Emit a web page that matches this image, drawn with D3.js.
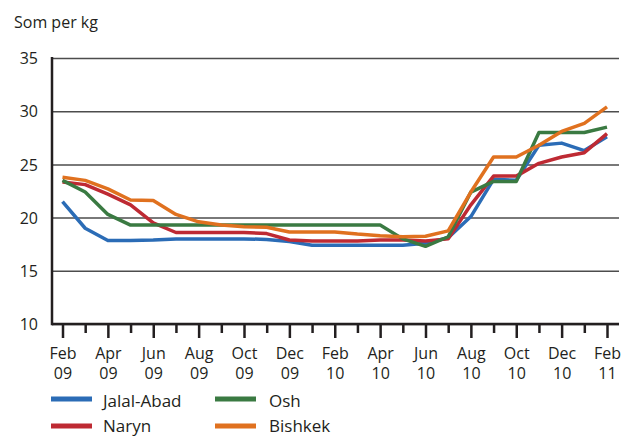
<!DOCTYPE html>
<html>
<head>
<meta charset="utf-8">
<script src="https://cdn.jsdelivr.net/npm/d3@7"></script>
<style>
  body { margin: 0; background: #fff; }
  text { font-family: "Open Sans", "Noto Sans", sans-serif; fill: #231f20; }
</style>
</head>
<body>
<div id="chart"></div>
<script>
// data (Som per kg, monthly Feb 09 - Feb 11)
const months = ["Feb 09","Mar 09","Apr 09","May 09","Jun 09","Jul 09","Aug 09","Sep 09","Oct 09","Nov 09","Dec 09",
  "Jan 10","Feb 10","Mar 10","Apr 10","May 10","Jun 10","Jul 10","Aug 10","Sep 10","Oct 10","Nov 10","Dec 10",
  "Jan 11","Feb 11"]

const jalalAbad = [21.5, 19.0, 17.85, 17.85, 17.9, 18.0, 18.0, 18.0, 18.0, 17.95, 17.75, 17.4, 17.4, 17.4, 17.4, 17.4, 17.6, 18.1, 20.1, 23.6, 23.5, 26.8, 27.0, 26.3, 27.6]
const naryn = [23.35, 23.1, 22.2, 21.2, 19.5, 18.6, 18.6, 18.6, 18.6, 18.5, 17.9, 17.8, 17.8, 17.8, 17.9, 17.9, 17.8, 18.0, 21.2, 23.9, 23.9, 25.1, 25.7, 26.1, 27.9]
const osh = [23.5, 22.4, 20.3, 19.3, 19.3, 19.3, 19.3, 19.3, 19.3, 19.3, 19.3, 19.3, 19.3, 19.3, 19.3, 18.0, 17.3, 18.2, 22.4, 23.4, 23.4, 28.0, 28.0, 28.0, 28.5]
const bishkek = [23.8, 23.5, 22.7, 21.65, 21.6, 20.3, 19.6, 19.3, 19.15, 19.1, 18.65, 18.65, 18.65, 18.45, 18.3, 18.2, 18.25, 18.75, 22.4, 25.7, 25.7, 26.8, 28.1, 28.85, 30.4]

const seriesNames = ["Jalal-Abad", "Naryn", "Osh", "Bishkek"]
const seriesValues = [jalalAbad, naryn, osh, bishkek]
const seriesColors = ["#2b6cb6", "#be2a33", "#3a7a42", "#e0711f"]

const yTicks = [10, 15, 20, 25, 30, 35]
const yLabel = "Som per kg"

// dimensions
let dimensions = {
    width: 622,
    height: 437,
    margin: { top: 58, right: 3, bottom: 113, left: 52 },
}
dimensions.innerWidth = dimensions.width - dimensions.margin.left - dimensions.margin.right
dimensions.innerHeight = dimensions.height - dimensions.margin.top - dimensions.margin.bottom

const outer = d3.select("#chart").append("svg")
    .attr("width", dimensions.width)
    .attr("height", dimensions.height)

const inner = outer.append("g")
    .attr("transform", `translate(${dimensions.margin.left},${dimensions.margin.top})`)

// scales
const xScale = d3.scaleLinear()
    .domain([0, months.length - 1])
    .range([10.5, 555])

const yScale = d3.scaleLinear()
    .domain([10, 35])
    .range([dimensions.innerHeight, 0])

// gridlines
const yAxis = d3.axisLeft(yScale)
    .tickValues(yTicks)
    .tickSize(-dimensions.innerWidth)
    .tickPadding(14)

const yAxisGroup = inner.append("g").call(yAxis)
yAxisGroup.select(".domain").remove()
yAxisGroup.selectAll(".tick line")
    .attr("stroke", "#4d4d4d")
    .attr("stroke-width", 1.5)
yAxisGroup.selectAll(".tick text")
    .style("font-size", "16px")
    .attr("dy", "0.35em")

// lines
const lineGenerator = d3.line()
    .x((d, i) => xScale(i))
    .y(d => yScale(d))

inner.selectAll(".series")
    .data(seriesValues)
    .join("path")
    .attr("class", "series")
    .attr("d", d => lineGenerator(d))
    .attr("fill", "none")
    .attr("stroke", (d, i) => seriesColors[i])
    .attr("stroke-width", 3.5)
    .attr("stroke-linejoin", "round")

// axes lines
const xAxis = d3.axisBottom(xScale)
    .tickValues(d3.range(months.length))
    .tickSize(0)
    .tickFormat("")

const xAxisGroup = inner.append("g")
    .attr("transform", `translate(0,${dimensions.innerHeight})`)
    .call(xAxis)
xAxisGroup.select(".domain").remove()
xAxisGroup.selectAll(".tick line")
    .attr("y2", (d, i) => i % 2 === 0 ? 14 : 9)
    .attr("stroke", "#231f20")
    .attr("stroke-width", 2.5)

xAxisGroup.selectAll(".tick")
    .filter((d, i) => i % 2 === 0)
    .append("text")
    .attr("text-anchor", "middle")
    .style("font-size", "16px")
    .selectAll("tspan")
    .data(d => months[d].split(" "))
    .join("tspan")
    .attr("x", 0)
    .attr("y", (d, i) => 35 + i * 20)
    .text(d => d)

inner.append("line")
    .attr("x1", 0).attr("x2", dimensions.innerWidth)
    .attr("y1", dimensions.innerHeight).attr("y2", dimensions.innerHeight)
    .attr("stroke", "#231f20").attr("stroke-width", 2.5)

inner.append("line")
    .attr("x1", 0).attr("x2", 0)
    .attr("y1", -1).attr("y2", dimensions.innerHeight + 1.2)
    .attr("stroke", "#231f20").attr("stroke-width", 2.5)

// y label
outer.append("text")
    .attr("x", 14)
    .attr("y", 28)
    .style("font-size", "16px")
    .text(yLabel)

// legend
const legend = outer.append("g")
    .selectAll("g")
    .data(seriesNames)
    .join("g")
    .attr("transform", (d, i) => `translate(${i < 2 ? 51 : 215},${i % 2 === 0 ? 399 : 426})`)

legend.append("line")
    .attr("x1", 0).attr("x2", 41)
    .attr("stroke", (d, i) => seriesColors[i])
    .attr("stroke-width", 5)

legend.append("text")
    .attr("x", (d, i) => i < 2 ? 52 : 54)
    .attr("y", (d, i) => i % 2 === 0 ? 2.5 : 0.5)
    .attr("dy", "0.35em")
    .style("font-size", "17px")
    .text(d => d)
</script>
</body>
</html>
